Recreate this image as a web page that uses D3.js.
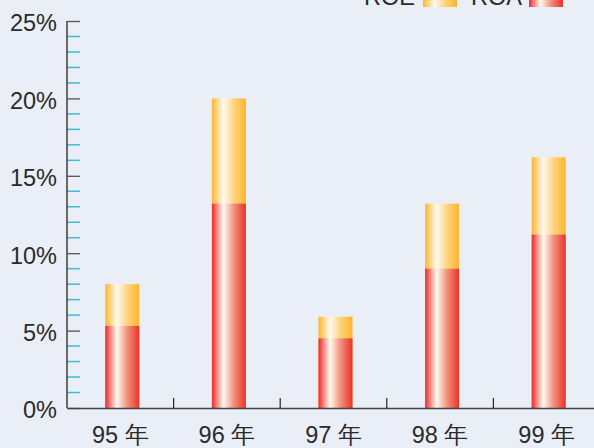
<!DOCTYPE html>
<html>
<head>
<meta charset="utf-8">
<script src="https://cdn.jsdelivr.net/npm/d3@7"></script>
<style>
  body { margin: 0; background: #eaeef7; }
  svg { display: block; }
  text { font-family: "Liberation Sans", Arial, sans-serif; fill: #2a2a2a; }
</style>
</head>
<body>
<script>
// chart data
var years = ["95 年", "96 年", "97 年", "98 年", "99 年"];
var roe = [8.0, 20.0, 5.9, 13.2, 16.2];
var roa = [5.3, 13.2, 4.5, 9.0, 11.2];
var yTicks = [0, 5, 10, 15, 20, 25];

var W = 594, H = 448;
var margin = {top: 21, right: -6, bottom: 40, left: 67},
    width = W - margin.left - margin.right,
    height = H - margin.top - margin.bottom;

var svg = d3.select("body").append("svg")
    .attr("width", W)
    .attr("height", H);

// gradients
var defs = svg.append("defs");
function grad(id, c) {
  var g = defs.append("linearGradient").attr("id", id)
      .attr("x1", "0%").attr("x2", "100%").attr("y1", "0%").attr("y2", "0%");
  g.append("stop").attr("offset", "0%").attr("stop-color", c[0]);
  g.append("stop").attr("offset", "34%").attr("stop-color", "#fffaf0");
  g.append("stop").attr("offset", "65%").attr("stop-color", c[1]);
  g.append("stop").attr("offset", "100%").attr("stop-color", c[2]);
}
grad("gRoa", ["#ec2a2a", "#f0907a", "#ec3128"]);
grad("gRoe", ["#fdb52c", "#fdd37e", "#fdb52c"]);

var g = svg.append("g")
    .attr("transform", "translate(" + margin.left + "," + margin.top + ")");

var x = d3.scaleBand().domain(years).range([0, width]);
var y = d3.scaleLinear().domain([0, 25]).range([height, 0]);
var barW = 34, barShift = 2;

function barX(i) { return x(years[i]) + x.bandwidth() / 2 - barW / 2 + barShift; }

// bars: ROE behind, ROA in front
g.selectAll(".roe").data(roe).enter().append("rect")
    .attr("x", function(d, i) { return barX(i); })
    .attr("y", function(d) { return y(d); })
    .attr("width", barW)
    .attr("height", function(d) { return height - y(d); })
    .attr("fill", "url(#gRoe)");

g.selectAll(".roa").data(roa).enter().append("rect")
    .attr("x", function(d, i) { return barX(i); })
    .attr("y", function(d) { return y(d); })
    .attr("width", barW)
    .attr("height", function(d) { return height - y(d); })
    .attr("fill", "url(#gRoa)");

// minor ticks
g.append("g").selectAll("line").data(d3.range(0, 26).filter(function(v) { return v % 5; }))
  .enter().append("line")
    .attr("x1", 0).attr("x2", 13)
    .attr("y1", function(d) { return y(d); })
    .attr("y2", function(d) { return y(d); })
    .attr("stroke", "#3fbdd8").attr("stroke-width", 1.5);

// y axis
var yAxis = g.append("g")
    .call(d3.axisRight(y).tickValues(yTicks).tickSize(13).tickFormat(function(d) { return d + "%"; }));
yAxis.select(".domain").attr("stroke", "#222").attr("stroke-width", 1.3).attr("d", "M0," + y(25) + "V" + height);
yAxis.selectAll(".tick line").attr("stroke", "#555").attr("stroke-width", 1.3);
yAxis.selectAll(".tick text")
    .attr("x", -10).attr("dy", "0.42em")
    .attr("text-anchor", "end")
    .style("font-size", "23.5px");

// x axis
var xAxis = g.append("g")
    .attr("transform", "translate(0," + height + ")")
    .call(d3.axisBottom(x).tickSize(0));
xAxis.select(".domain").attr("stroke", "#444").attr("stroke-width", 1.3);
xAxis.selectAll(".tick text").attr("y", 35).attr("dy", 0).style("font-size", "23.5px");
xAxis.selectAll(".sep").data(years.slice(1)).enter().append("line")
    .attr("x1", function(d) { return x(d); })
    .attr("x2", function(d) { return x(d); })
    .attr("y1", 0).attr("y2", -10)
    .attr("stroke", "#222").attr("stroke-width", 1.2);

// legend (clipped at top)
var legend = [{name: "ROE", fill: "url(#gRoe)", tx: 415, sx: 423},
              {name: "ROA", fill: "url(#gRoa)", tx: 522, sx: 529}];
legend.forEach(function(l) {
  svg.append("text").attr("x", l.tx).attr("y", 5)
      .attr("text-anchor", "end").style("font-size", "23.5px").text(l.name);
  svg.append("rect").attr("x", l.sx).attr("y", -10)
      .attr("width", 34).attr("height", 17).attr("fill", l.fill);
});
</script>
</body>
</html>
